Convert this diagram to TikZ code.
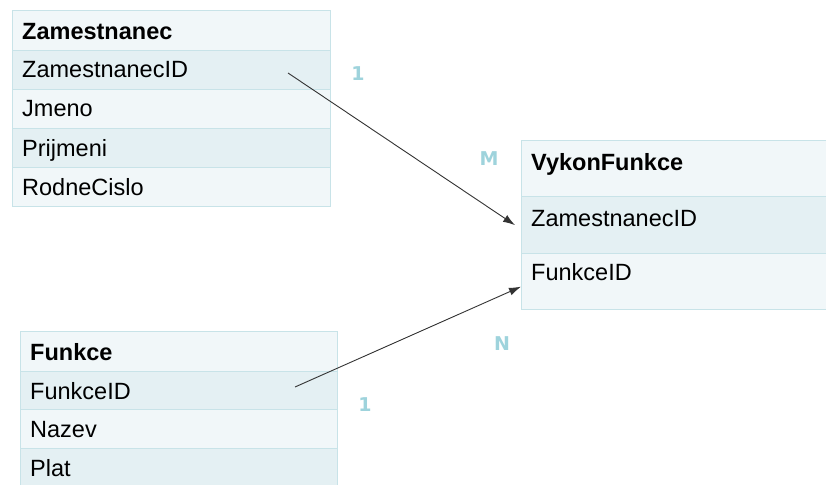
\documentclass[tikz,border=0pt]{standalone}
\usepackage{fontspec}
\setmainfont{Liberation Sans}
\newfontfamily\cardfont{DejaVu Sans}
\usetikzlibrary{arrows.meta}
\definecolor{rowlight}{HTML}{F1F7F9}
\definecolor{rowdark}{HTML}{E4F0F3}
\definecolor{rowline}{HTML}{C8E3E8}
\definecolor{cardteal}{HTML}{9ED3DC}
\tikzset{
  cell/.style={draw=rowline, line width=1.3pt, anchor=north west, inner sep=0pt, rectangle},
  lite/.style={cell, fill=rowlight},
  dark/.style={cell, fill=rowdark},
  field/.style={anchor=base west, inner sep=0pt, font=\fontsize{23.5}{28}\selectfont, text=black},
  title/.style={field, font=\fontsize{23.5}{28}\selectfont\bfseries},
  card/.style={inner sep=0pt, font=\cardfont\fontsize{19}{22}\selectfont\bfseries, text=cardteal},
  rel/.style={draw=black!80, line width=0.9pt, -{Latex[length=12pt,width=8pt]}}
}
\begin{document}
\begin{tikzpicture}[x=1pt,y=-1pt]
\useasboundingbox[fill=white] (0,0) rectangle (826,484);
\begin{scope}
\clip (0,0) rectangle (826,484);
% Zamestnanec
\node[lite, minimum width=318pt, minimum height=40pt] (z0) at (12,10) {};
\node[dark, minimum width=318pt, minimum height=39pt] (z1) at (12,50) {};
\node[lite, minimum width=318pt, minimum height=39pt] (z2) at (12,89) {};
\node[dark, minimum width=318pt, minimum height=39pt] (z3) at (12,128) {};
\node[lite, minimum width=318pt, minimum height=39pt] (z4) at (12,167) {};
\node[title] (tz0) at ([shift={(10,30)}]z0.north west) {Zamestnanec};
\node[field] (tz1) at ([shift={(10,28)}]z1.north west) {ZamestnanecID};
\node[field] (tz2) at ([shift={(10,28)}]z2.north west) {Jmeno};
\node[field] (tz3) at ([shift={(10,28)}]z3.north west) {Prijmeni};
\node[field] (tz4) at ([shift={(10,28)}]z4.north west) {RodneCislo};
% Funkce
\node[lite, minimum width=317pt, minimum height=40pt] (f0) at (20,331) {};
\node[dark, minimum width=317pt, minimum height=38pt] (f1) at (20,371) {};
\node[lite, minimum width=317pt, minimum height=39pt] (f2) at (20,409) {};
\node[dark, minimum width=317pt, minimum height=50pt] (f3) at (20,448) {};
\node[title] (tf0) at ([shift={(10,29)}]f0.north west) {Funkce};
\node[field] (tf1) at ([shift={(10,28)}]f1.north west) {FunkceID};
\node[field] (tf2) at ([shift={(10,28)}]f2.north west) {Nazev};
\node[field] (tf3) at ([shift={(10,28)}]f3.north west) {Plat};
% VykonFunkce
\node[lite, minimum width=310pt, minimum height=56pt] (v0) at (521,140) {};
\node[dark, minimum width=310pt, minimum height=57pt] (v1) at (521,196) {};
\node[lite, minimum width=310pt, minimum height=56pt] (v2) at (521,253) {};
\node[title] (tv0) at ([shift={(10,30)}]v0.north west) {VykonFunkce};
\node[field] (tv1) at ([shift={(10,30)}]v1.north west) {ZamestnanecID};
\node[field] (tv2) at ([shift={(10,27)}]v2.north west) {FunkceID};
\end{scope}
% relationships
\coordinate (s1) at (288,73);
\coordinate (s2) at (295,387);
\draw[rel] (s1) -- ([shift={(-6,0)}]v1.west);
\draw[rel] (s2) -- ([shift={(0,5)}]v2.west);
% cardinalities
\node[card] (c1) at (358,74) {1};
\node[card] (cm) at (489,159) {M};
\node[card] (cn) at (502,344) {N};
\node[card] (c2) at (365,405) {1};
\end{tikzpicture}
\end{document}
